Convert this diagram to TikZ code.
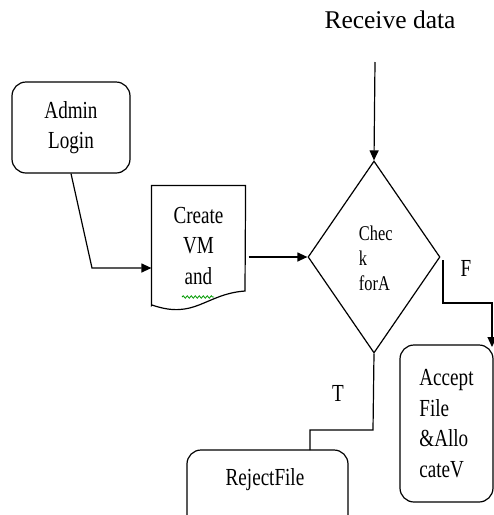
\documentclass[tikz,border=0pt]{standalone}
\usepackage{fontspec}
\setmainfont{Liberation Serif}
\newfontfamily\condfont[FakeStretch=0.78]{Liberation Serif}
\usetikzlibrary{shapes.geometric,arrows.meta,decorations.pathmorphing}
\begin{document}
\begin{tikzpicture}[x=1pt,y=-1pt,
  line width=1.2pt,
  boxtxt/.style={font=\condfont\fontsize{24.5}{30.5}\selectfont},
  rbox/.style={draw, rounded corners=14pt, inner sep=0pt},
  arr/.style={-{Triangle[length=10pt,width=9pt]}}
]
\useasboundingbox (0,0) rectangle (494,515);
\clip (0,0) rectangle (494,515);

% title
\node[font=\fontsize{25.5}{30}\selectfont] (recv) at (390,20) {Receive data};
\coordinate (recvend) at (375,62);

% Admin Login
\node[rbox, boxtxt, align=center, minimum width=118pt, minimum height=91pt] (admin) at (71,127.5) {Admin\\Login};

% Create VM document
\node[minimum width=93pt, minimum height=119pt, inner sep=0pt] (create) at (198.5,245.5) {};
\draw (create.south west) -- (create.north west) -- (create.north east) -- (245,291)
  .. controls (205,294) and (195,320) .. (152,305) -- cycle;
\node[boxtxt, align=center] (createtxt) at (198.5,246) {Create\\VM\\and};
\draw[green!60!black, line width=0.8pt, decoration={snake, amplitude=1.2pt, segment length=4pt}, decorate] (182,297) -- (214,297);

% Decision diamond
\node[draw, diamond, aspect=0.6875, minimum width=132pt, minimum height=192pt, inner sep=0pt] (check) at (374,257) {};
\node[font=\condfont\fontsize{21}{25}\selectfont, align=left, anchor=west] (checktxt) at (355,258) {Chec\\k\\forA};

% Accept
\node[rbox, boxtxt, align=left, minimum width=93pt, minimum height=157pt] (accept) at (446.5,423.5) {Accept\\File\\\&Allo\\cateV};

% Reject
\node[rbox, minimum width=161pt, minimum height=90pt] (reject) at (267.5,495) {};
\node[boxtxt] (rejecttxt) at (265,480) {RejectFile};

% connectors
\draw[arr] (recvend) -- (check.north);
\draw[arr] (admin.south) -- (92,268) -- (create.west |- 0,268);
\draw[arr] ([xshift=3pt]create.east |- check.west) -- (check.west);
\coordinate (fstart) at (443,260);
\draw[arr] (fstart) -- (443,303) -- (492,303) -- (492,347);
\draw (check.south) -- (373,430) -- (310,430) -- (310 ,450);

% labels
\node[boxtxt] (flab) at (466,268) {F};
\node[boxtxt] (tlab) at (338,393) {T};
\end{tikzpicture}
\end{document}
